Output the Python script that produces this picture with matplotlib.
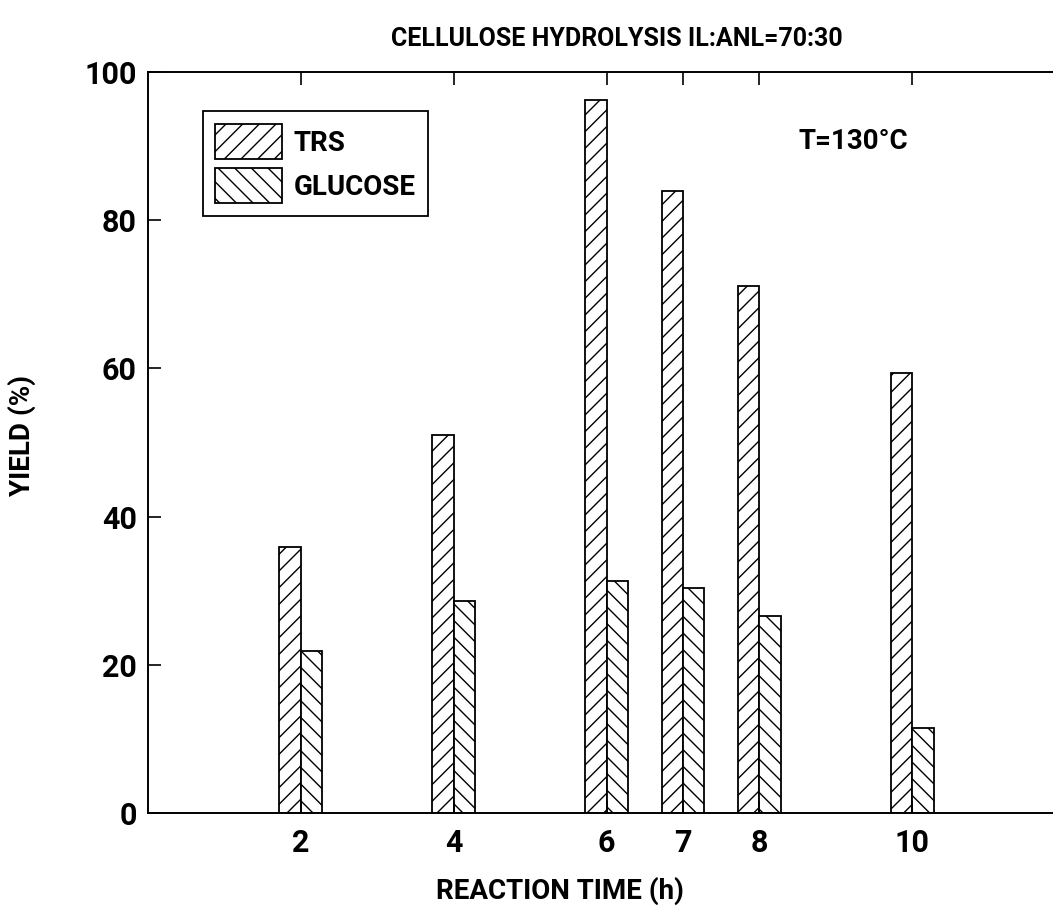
import matplotlib
matplotlib.use('Agg')
import matplotlib.pyplot as plt
import numpy as np

plt.rcParams['font.family'] = ['Roboto', 'DejaVu Sans']
plt.rcParams['font.weight'] = 'bold'
plt.rcParams['axes.labelweight'] = 'bold'
plt.rcParams['hatch.linewidth'] = 1.0

# reaction time (h) and yields (%)
times = [2, 4, 6, 7, 8, 10]
trs = [35.9, 51.0, 96.2, 84.0, 71.1, 59.4]
glucose = [21.9, 28.6, 31.3, 30.3, 26.6, 11.5]
yticks = [0, 20, 40, 60, 80, 100]

W = 0.28
FS = 20

fig = plt.figure(figsize=(10.53, 9.18), dpi=100)
ax = fig.add_axes([0.1405, 0.1144, 0.871, 0.8072])

x = np.array(times, dtype=float)
ax.bar(x - W, trs, width=W, align='edge', facecolor='white', edgecolor='black',
       linewidth=1.3, hatch='//', label='TRS')
ax.bar(x, glucose, width=W, align='edge', facecolor='white', edgecolor='black',
       linewidth=1.3, hatch='\\\\', label='GLUCOSE')

ax.set_xlim(0, 12)
ax.set_ylim(0, 100)
ax.set_xticks(times)
ax.set_xticklabels([str(t) for t in times])
ax.set_yticks(yticks)
ax.tick_params(direction='in', length=9, width=1.2, labelsize=22, top=True, right=False)
ax.tick_params(axis='x', pad=11)
ax.tick_params(axis='y', pad=8)
for s in ax.spines.values():
    s.set_linewidth(1.4)
ax.spines['right'].set_visible(False)

ax.set_xlabel('REACTION TIME (h)', fontsize=FS)
ax.xaxis.set_label_coords(0.449, -0.105)
ax.xaxis.label.set_va('center')
ax.set_ylabel('YIELD (%)', fontsize=FS)
ax.yaxis.set_label_coords(-0.137, 0.51)
ax.yaxis.label.set_va('center')

fig.text(617 / 1053, 1 - 39 / 918, 'CELLULOSE HYDROLYSIS IL:ANL=70:30',
         fontsize=18, ha='center', va='center')
ax.text(0.769, 0.9055, 'T=130°C', transform=ax.transAxes, fontsize=FS,
        ha='center', va='center')

leg = ax.legend(loc='upper left', bbox_to_anchor=(0.06, 0.947), borderaxespad=0,
                fontsize=FS, fancybox=False, edgecolor='black', framealpha=1,
                handlelength=2.4, handleheight=1.6, handletextpad=0.4,
                labelspacing=0.3, borderpad=0.45)
leg.get_frame().set_linewidth(1.3)

fig.savefig('out.png', dpi=100)
